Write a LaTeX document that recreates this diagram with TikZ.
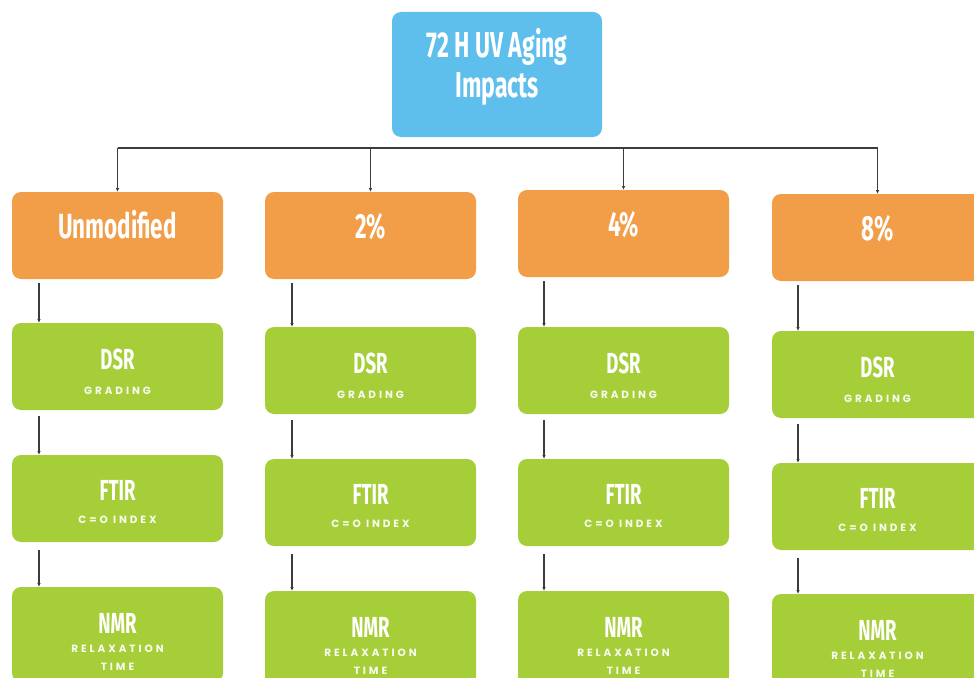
\documentclass[tikz,border=0pt]{standalone}
\usepackage{fontspec}
\setmainfont{Fira Sans}
\newfontfamily\condfont[FakeStretch=0.64]{Fira Sans}
\newfontfamily\widefont[LetterSpace=28]{Poppins}
\usetikzlibrary{arrows.meta}
\definecolor{topblue}{RGB}{94,190,236}
\definecolor{catorange}{RGB}{242,157,72}
\definecolor{testgreen}{RGB}{166,206,57}
\definecolor{linegray}{RGB}{60,60,60}
\tikzset{
  boxbase/.style={rectangle, rounded corners=9pt, minimum width=211pt, minimum height=87pt, inner sep=0pt, outer sep=0pt, anchor=north west},
  bluebox/.style={boxbase, fill=topblue, minimum width=210pt, minimum height=125pt},
  obox/.style={boxbase, fill=catorange},
  gbox/.style={boxbase, fill=testgreen},
  headtxt/.style={text=white, font=\condfont\bfseries\fontsize{35}{40}\selectfont, anchor=base, inner sep=0pt},
  gtxt/.style={text=white, font=\condfont\bfseries\fontsize{29}{34}\selectfont, anchor=base, inner sep=0pt},
  subtxt/.style={text=white!92!testgreen, font=\widefont\bfseries\fontsize{10.5}{12}\selectfont, anchor=base, inner sep=0pt},
  arr/.style={draw=linegray, line width=1.1pt, -{Latex[length=4pt,width=3.5pt]}},
  barline/.style={draw=linegray, line width=1.1pt},
}
% #1 name, #2 box left, #3 arrow offset, #4 orange top, #5 DSR top, #6 FTIR top, #7 NMR top, #8 label
\newcommand\flowcol[8]{%
  \node[obox] (#1o) at (#2,#4) {};
  \node[headtxt] (#1ot) at (#2+105.5,#4+46) {#8};
  \node[gbox] (#1d) at (#2,#5) {};
  \node[gtxt] (#1dt) at (#2+105.5,#5+46) {DSR};
  \node[subtxt] (#1ds) at (#2+105.5,#5+71) {GRADING};
  \node[gbox] (#1f) at (#2,#6) {};
  \node[gtxt] (#1ft) at (#2+105.5,#6+45) {FTIR};
  \node[subtxt] (#1fs) at (#2+105.5,#6+68) {C=O INDEX};
  \node[gbox, minimum height=95pt] (#1n) at (#2,#7) {};
  \node[gtxt] (#1nt) at (#2+105.5,#7+46) {NMR};
  \node[subtxt] (#1ns1) at (#2+105.5,#7+65) {RELAXATION};
  \node[subtxt] (#1ns2) at (#2+105.5,#7+83) {TIME};
  \draw[arr] ([xshift=#3pt,yshift=-4pt]#1o.south west) -- ([xshift=#3pt]#1d.north west);
  \draw[arr] ([xshift=#3pt,yshift=-6pt]#1d.south west) -- ([xshift=#3pt]#1f.north west);
  \draw[arr] ([xshift=#3pt,yshift=-8pt]#1f.south west) -- ([xshift=#3pt]#1n.north west);
}
\begin{document}
\begin{tikzpicture}[x=1pt,y=-1pt]
\useasboundingbox (0,0) rectangle (974,677);
\clip (0,0) rectangle (974,677);
\node[bluebox] (top) at (392,12) {};
\node[headtxt, font=\condfont\bfseries\fontsize{36}{40}\selectfont] (topt1) at (497,58) {72 H UV Aging};
\node[headtxt, font=\condfont\bfseries\fontsize{36}{40}\selectfont] (topt2) at (497,97) {Impacts};
\flowcol{a}{12}{27}{192}{323}{455}{587}{Unmodified}
\flowcol{b}{265}{27}{192}{327}{459}{591}{2\%}
\flowcol{c}{518}{26}{190}{327}{459}{591}{4\%}
\flowcol{d}{772}{26}{194}{331}{463}{594}{8\%}
\coordinate (b1) at (ao.north |- 0,148);
\coordinate (b2) at (bo.north |- 0,148);
\coordinate (b3) at (co.north |- 0,148);
\coordinate (b4) at (do.north |- 0,148);
\draw[barline] (b1) -- (b4);
\draw[arr] (b1) -- (ao.north);
\draw[arr] (b2) -- (bo.north);
\draw[arr] (b3) -- (co.north);
\draw[arr] (b4) -- (do.north);
\end{tikzpicture}
\end{document}
